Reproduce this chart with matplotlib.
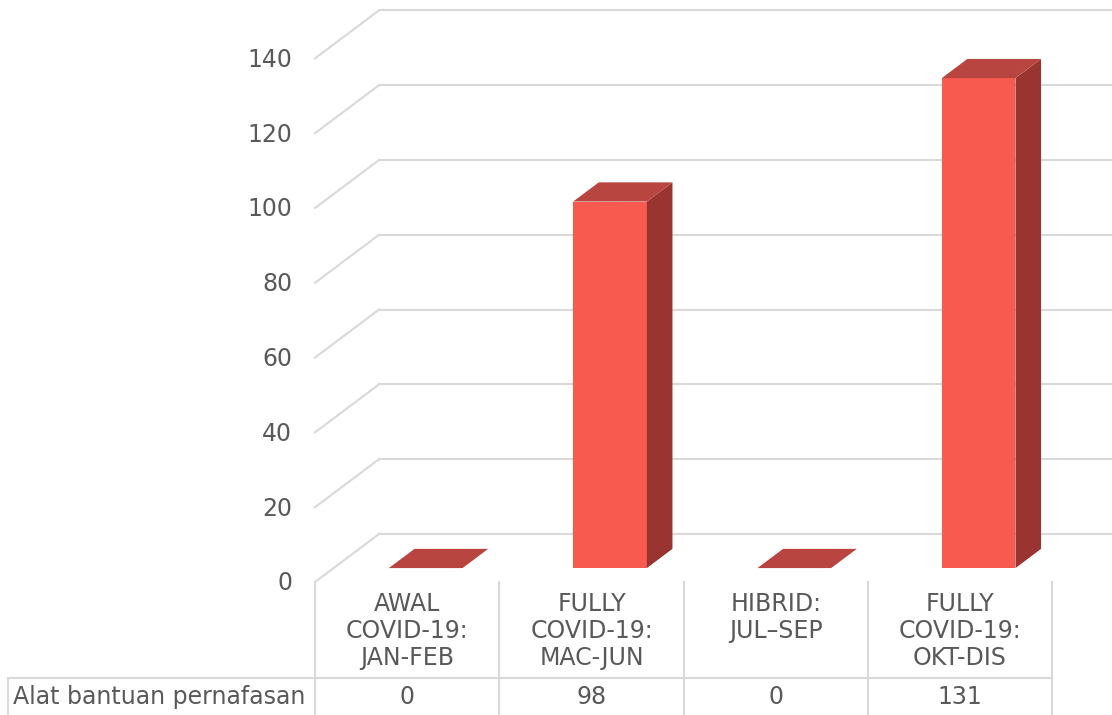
import matplotlib.pyplot as plt
from matplotlib.patches import Polygon

# data
categories = ["AWAL\nCOVID-19:\nJAN-FEB", "FULLY\nCOVID-19:\nMAC-JUN",
              "HIBRID:\nJUL\u2013SEP", "FULLY\nCOVID-19:\nOKT-DIS"]
values = [0, 98, 0, 131]
series_name = "Alat bantuan pernafasan"
yticks = [0, 20, 40, 60, 80, 100, 120, 140]

# look
FRONT = "#F85A50"
TOP = "#B94540"
SIDE = "#9A3430"
GRID = "#D9D9D9"
TEXT = "#595959"
FS = 17

# pixel scale of the picture
W, H = 1112, 715
CAT_PX = 184.3          # pixels per category
VAL_PX = 3.74           # pixels per value unit
X0_PX, Y0_PX = 315, 582  # front-left corner of the floor
DX = 64 / CAT_PX        # full floor depth, in data units
DY = 48 / VAL_PX
BAR_W = 0.4
D_FRONT, D_BAR = 0.29, 0.40  # bar depth position / depth (fraction of floor)

fig = plt.figure(figsize=(W / 100, H / 100), dpi=100)
ax = fig.add_axes([0, 0, 1, 1])
xmin = -0.5 - X0_PX / CAT_PX
xmax = -0.5 + (W - X0_PX) / CAT_PX
ax.set_xlim(xmin, xmax)
ax.set_ylim(-(H - Y0_PX) / VAL_PX, Y0_PX / VAL_PX)
ax.axis("off")

# walls: side-wall slants and back-wall gridlines
for v in yticks:
    ax.plot([-0.5, -0.5 + DX], [v, v + DY], color=GRID, lw=1.5, zorder=1)
    ax.plot([-0.5 + DX, xmax + 1], [v + DY, v + DY], color=GRID, lw=1.5, zorder=1)
    ax.text(-0.5 - 23 / CAT_PX, v - 0.4, str(v), ha="right", va="center",
            fontsize=FS, color=TEXT)

# 3d-looking bars
for i, v in enumerate(values):
    x0 = i - BAR_W / 2 + DX * D_FRONT
    y0 = DY * D_FRONT
    ox, oy = DX * D_BAR, DY * D_BAR
    if v > 0:
        ax.add_patch(Polygon([(x0, y0), (x0 + BAR_W, y0), (x0 + BAR_W, y0 + v),
                              (x0, y0 + v)], closed=True, fc=FRONT, ec="none", zorder=3))
        ax.add_patch(Polygon([(x0 + BAR_W, y0), (x0 + BAR_W + ox, y0 + oy),
                              (x0 + BAR_W + ox, y0 + v + oy), (x0 + BAR_W, y0 + v)],
                             closed=True, fc=SIDE, ec="none", zorder=3))
    ax.add_patch(Polygon([(x0, y0 + v), (x0 + BAR_W, y0 + v),
                          (x0 + BAR_W + ox, y0 + v + oy), (x0 + ox, y0 + v + oy)],
                         closed=True, fc=TOP, ec="none", zorder=3))

# data table underneath, in pixel rows
axt = fig.add_axes([0, 0, 1, 1], facecolor="none")
axt.set_xlim(xmin, xmax)
axt.set_ylim(H, 0)
axt.axis("off")
n = len(categories)
row_top, row_mid, row_bot = 582, 678, 720
for k in range(n + 1):
    axt.plot([k - 0.5, k - 0.5], [row_top, row_bot], color=GRID, lw=1.5)
left = xmin + 8 / CAT_PX
axt.plot([left, n - 0.5], [row_mid, row_mid], color=GRID, lw=1.5)
axt.plot([left, left], [row_mid, row_bot], color=GRID, lw=1.5)
for i, (c, v) in enumerate(zip(categories, values)):
    axt.text(i, 592, c, ha="center", va="top", fontsize=FS, color=TEXT,
             linespacing=1.17)
    axt.text(i, 697, str(v), ha="center", va="center", fontsize=FS, color=TEXT)
axt.text(xmin + 13 / CAT_PX, 697, series_name, ha="left", va="center",
         fontsize=FS, color=TEXT)

fig.savefig("out.png", dpi=100)
